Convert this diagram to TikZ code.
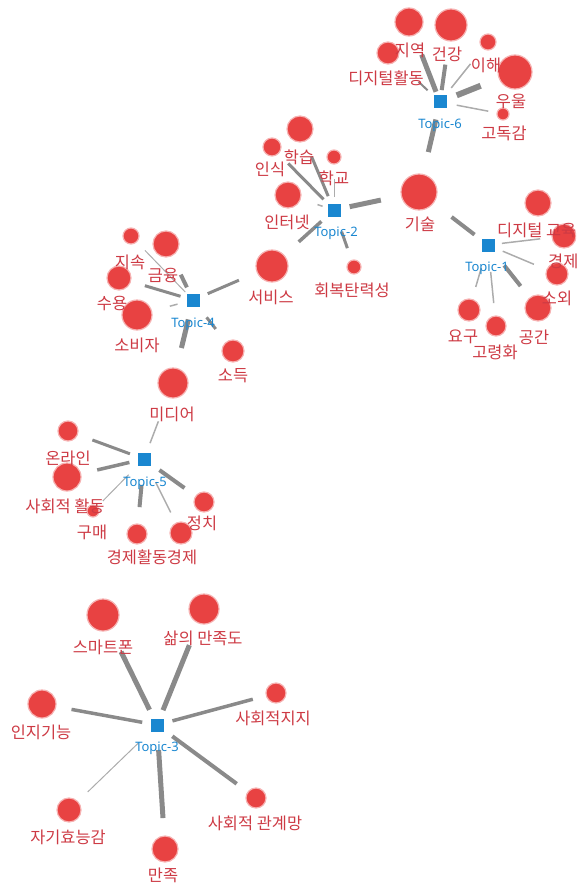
\documentclass[tikz,border=0pt]{standalone}
\usepackage{fontspec}
\setmainfont{Noto Sans CJK KR}
\newfontfamily\topicfont{Noto Sans}
\definecolor{dotred}{RGB}{232,66,66}
\definecolor{halo}{RGB}{246,178,178}
\definecolor{lblred}{RGB}{205,58,68}
\definecolor{topicblue}{RGB}{26,135,208}
\definecolor{edgegrey}{RGB}{138,138,138}
\definecolor{thingrey}{RGB}{172,172,172}
\begin{document}
\begin{tikzpicture}[x=1pt,y=-1pt,
  dot/.style={circle, fill=dotred, draw=halo, line width=1.2pt, inner sep=0pt, minimum size=#1},
  wlabel/.style={text=lblred, font=\fontsize{16.4}{19}\selectfont, inner sep=0pt},
  tsq/.style={fill=topicblue, minimum size=13pt, inner sep=0pt},
  tlabel/.style={text=topicblue, font=\topicfont\fontsize{13}{15}\selectfont, inner sep=0pt},
  edge/.style={draw=edgegrey, line width=#1pt},
  thinedge/.style={draw=thingrey, line width=#1pt},
  sh/.style 2 args={shorten <=#1pt, shorten >=#2pt}]
\useasboundingbox (0,0) rectangle (576,888);
\clip (0,0) rectangle (576,888);

% topic square positions
\coordinate (p6) at (440,102);
\coordinate (p2) at (334,210);
\coordinate (p1) at (488,245);
\coordinate (p4) at (193,300);
\coordinate (p5) at (144,459);
\coordinate (p3) at (157,725);

% word dots
\node[dot=28] (jiyeok) at (409,22) {};
\node[dot=32] (geongang) at (451,25) {};
\node[dot=16] (ihae) at (488,42) {};
\node[dot=34] (uul) at (515,72) {};
\node[dot=22] (digact) at (388,53) {};
\node[dot=12] (godok) at (503,114) {};

\node[dot=26] (hakseup) at (300,129) {};
\node[dot=18] (insik) at (272,147) {};
\node[dot=14] (hakgyo) at (334,157) {};
\node[dot=26] (internet) at (288,195) {};
\node[dot=36] (gisul) at (419,192) {};
\node[dot=14] (hoebok) at (354,267) {};
\node[dot=32] (service) at (272,266) {};

\node[dot=26] (digedu) at (538,203) {};
\node[dot=24] (econA) at (564,236) {};
\node[dot=22] (sooe) at (557,274) {};
\node[dot=26] (gonggan) at (538,308) {};
\node[dot=22] (yogu) at (469,310) {};
\node[dot=20] (goryeong) at (496,326) {};

\node[dot=16] (jisok) at (131,236) {};
\node[dot=26] (geumyung) at (166,244) {};
\node[dot=24] (suyong) at (119,278) {};
\node[dot=30] (sobija) at (137,315) {};
\node[dot=22] (sodeuk) at (233,351) {};
\node[dot=30] (media) at (173,383) {};

\node[dot=20] (online) at (68,431) {};
\node[dot=28] (sahoeact) at (67,477) {};
\node[dot=12] (gumae) at (93,511) {};
\node[dot=20] (econact) at (137,534) {};
\node[dot=22] (econB) at (181,533) {};
\node[dot=20] (jeongchi) at (204,502) {};

\node[dot=32] (smart) at (103,615) {};
\node[dot=30] (salm) at (204,609) {};
\node[dot=28] (inji) at (42,704) {};
\node[dot=20] (sahoeji) at (276,693) {};
\node[dot=24] (jagi) at (69,810) {};
\node[dot=26] (manjok) at (165,849) {};
\node[dot=20] (gwangye) at (256,798) {};

% topic squares
\node[tsq] (t6) at (p6) {};
\node[tsq] (t2) at (p2) {};
\node[tsq] (t1) at (p1) {};
\node[tsq] (t4) at (p4) {};
\node[tsq] (t5) at (p5) {};
\node[tsq] (t3) at (p3) {};

% edges
\draw[edge=5, sh={11}{35}] (t6.center) -- (jiyeok.center);
\draw[edge=4, sh={12}{40}] (t6.center) -- (geongang.center);
\draw[thinedge=1.5, sh={18}{28}] (t6.center) -- (ihae.center);
\draw[edge=6, sh={18}{37}] (t6.center) -- (uul.center);
\draw[thinedge=1.5, sh={17}{15}] (t6.center) -- (godok.center);
\draw[edge=2, sh={17}{42}] (t6.center) -- (digact.center);
\draw[edge=5, sh={18}{41}] (t6.center) -- (gisul.center);

\draw[edge=3, sh={15}{30}] (t2.center) -- (hakseup.center);
\draw[edge=3, sh={15}{23}] (t2.center) -- (insik.center);
\draw[thinedge=1, sh={13}{22}] (t2.center) -- (hakgyo.center);
\draw[thinedge=1.5, sh={12}{31}] (t2.center) -- (internet.center);
\draw[edge=5, sh={16}{39}] (t2.center) -- (gisul.center);
\draw[edge=3.5, sh={17}{36}] (t2.center) -- (service.center);
\draw[edge=3, sh={23}{20}] (t2.center) -- (hoebok.center);

\draw[edge=4, sh={17}{41}] (t1.center) -- (gisul.center);
\draw[thinedge=1.5, sh={14}{24}] (t1.center) -- (econA.center);
\draw[thinedge=1.5, sh={16}{25}] (t1.center) -- (sooe.center);
\draw[edge=4, sh={26}{28}] (t1.center) -- (gonggan.center);
\draw[thinedge=1.5, sh={24}{24}] (t1.center) -- (yogu.center);
\draw[thinedge=1.5, sh={27}{23}] (t1.center) -- (goryeong.center);

\draw[thinedge=1, sh={11}{20}] (t4.center) -- (jisok.center);
\draw[edge=4, sh={14}{34}] (t4.center) -- (geumyung.center);
\draw[edge=3, sh={13}{27}] (t4.center) -- (suyong.center);
\draw[thinedge=1.5, sh={16}{34}] (t4.center) -- (sobija.center);
\draw[edge=3, sh={16}{36}] (t4.center) -- (service.center);
\draw[edge=3, sh={22}{28}] (t4.center) -- (sodeuk.center);
\draw[edge=5, sh={20}{36}] (t4.center) -- (media.center);

\draw[thinedge=1.5, sh={17}{41}] (t5.center) -- (media.center);
\draw[edge=3, sh={15}{26}] (t5.center) -- (online.center);
\draw[edge=3.5, sh={15}{31}] (t5.center) -- (sahoeact.center);
\draw[thinedge=1, sh={22}{14}] (t5.center) -- (gumae.center);
\draw[edge=4, sh={26}{27}] (t5.center) -- (econact.center);
\draw[thinedge=1.5, sh={26}{23}] (t5.center) -- (econB.center);
\draw[edge=4, sh={19}{24}] (t5.center) -- (jeongchi.center);

\draw[edge=5, sh={17}{41}] (t3.center) -- (smart.center);
\draw[edge=5, sh={16}{39}] (t3.center) -- (salm.center);
\draw[edge=3.5, sh={15}{30}] (t3.center) -- (inji.center);
\draw[edge=3.5, sh={16}{24}] (t3.center) -- (sahoeji.center);
\draw[thinedge=1, sh={26}{26}] (t3.center) -- (jagi.center);
\draw[edge=5, sh={25}{31}] (t3.center) -- (manjok.center);
\draw[edge=4, sh={19}{24}] (t3.center) -- (gwangye.center);

% word labels
\node[wlabel] (l-jiyeok) at (410,50) {지역};
\node[wlabel] (l-geongang) at (447,54) {건강};
\node[wlabel] (l-ihae) at (486,65) {이해};
\node[wlabel] (l-uul) at (511,101) {우울};
\node[wlabel] (l-digact) at (386,78) {디지털활동};
\node[wlabel] (l-godok) at (504,133) {고독감};

\node[wlabel] (l-hakseup) at (299,157) {학습};
\node[wlabel] (l-insik) at (270,169) {인식};
\node[wlabel] (l-hakgyo) at (334,178) {학교};
\node[wlabel] (l-internet) at (287,222) {인터넷};
\node[wlabel] (l-gisul) at (420,224) {기술};
\node[wlabel] (l-hoebok) at (352,290) {회복탄력성};
\node[wlabel] (l-service) at (271,297) {서비스};

\node[wlabel, anchor=west] (l-digedu) at (497,230) {디지털 교육};
\node[wlabel, anchor=west] (l-econA) at (548,261) {경제};
\node[wlabel] (l-sooe) at (557,298) {소외};
\node[wlabel] (l-gonggan) at (534,337) {공간};
\node[wlabel] (l-yogu) at (463,337) {요구};
\node[wlabel] (l-goryeong) at (495,352) {고령화};

\node[wlabel] (l-jisok) at (130,262) {지속};
\node[wlabel] (l-geumyung) at (163,275) {금융};
\node[wlabel] (l-suyong) at (112,303) {수용};
\node[wlabel] (l-sobija) at (137,345) {소비자};
\node[wlabel] (l-sodeuk) at (233,376) {소득};
\node[wlabel] (l-media) at (172,414) {미디어};

\node[wlabel] (l-online) at (68,458) {온라인};
\node[wlabel] (l-sahoeact) at (65,506) {사회적 활동};
\node[wlabel] (l-gumae) at (92,532) {구매};
\node[wlabel] (l-econact) at (137,557) {경제활동};
\node[wlabel] (l-econB) at (182,557) {경제};
\node[wlabel] (l-jeongchi) at (202,523) {정치};

\node[wlabel] (l-smart) at (103,647) {스마트폰};
\node[wlabel] (l-salm) at (203,638) {삶의 만족도};
\node[wlabel] (l-inji) at (41,732) {인지기능};
\node[wlabel] (l-sahoeji) at (273,718) {사회적지지};
\node[wlabel] (l-jagi) at (68,837) {자기효능감};
\node[wlabel] (l-manjok) at (163,875) {만족};
\node[wlabel] (l-gwangye) at (255,823) {사회적 관계망};

% topic labels
\node[tlabel] (lt6) at (440,125) {Topic-6};
\node[tlabel] (lt2) at (336,233) {Topic-2};
\node[tlabel] (lt1) at (487,268) {Topic-1};
\node[tlabel] (lt4) at (193,324) {Topic-4};
\node[tlabel] (lt5) at (145,483) {Topic-5};
\node[tlabel] (lt3) at (157,748) {Topic-3};
\end{tikzpicture}
\end{document}
